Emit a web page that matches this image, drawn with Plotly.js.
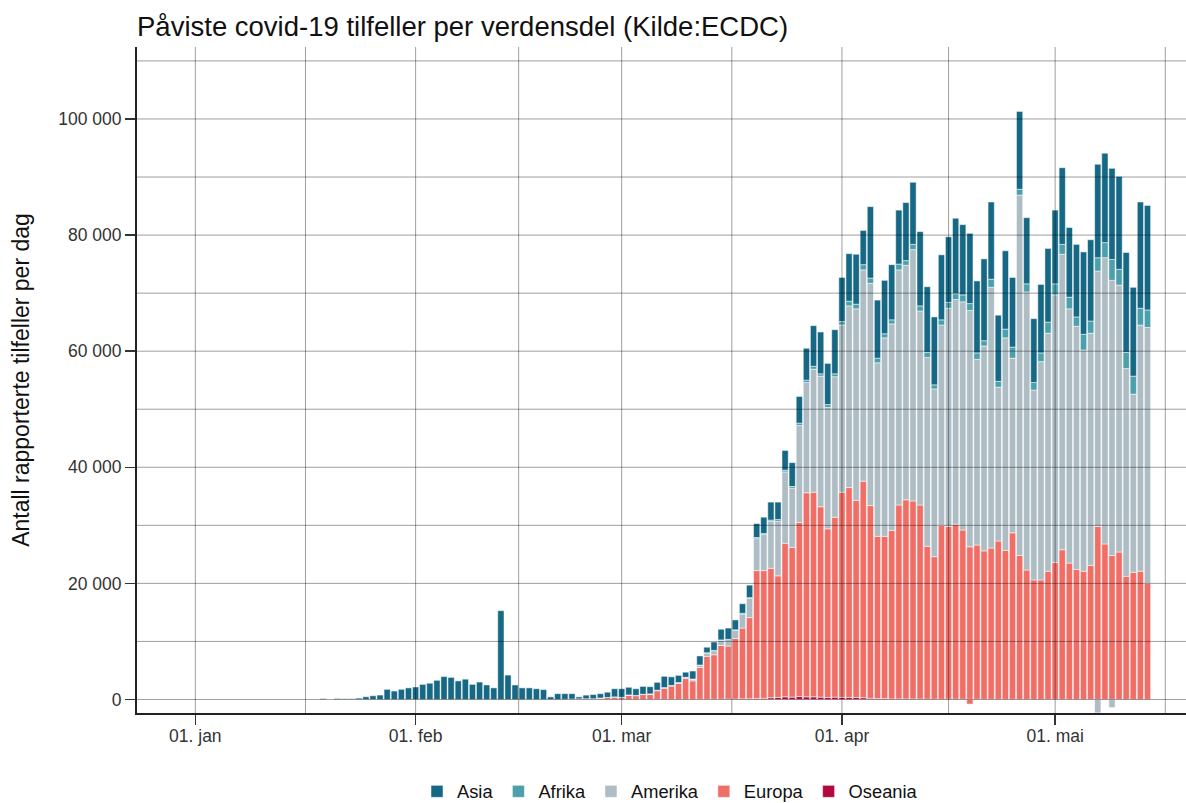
<!DOCTYPE html>
<html>
<head>
<meta charset="utf-8">
<script src="https://cdn.plot.ly/plotly-3.0.1.min.js"></script>
<style>
html, body { margin: 0; padding: 0; background: #ffffff; }
#chart { width: 1186px; height: 803px; }
</style>
</head>
<body>
<div id="chart"></div>
<script>
// ---- data (daily reported cases, first day = startDate) ----
const startDate = '2020-01-19';

const asia = [
  // Jan 19-31
  140, 0, 150, 120, 120, 230, 470, 640, 760, 1740, 1450, 1750, 2000,
  // Feb
  2150, 2600, 2800, 3300, 3950, 3800, 3200, 3500, 2600, 3000, 2500, 2000, 15300, 4200, 2500,
  2000, 2000, 1850, 1700, 450, 1000, 980, 940, 350, 630, 730, 750, 900, 1400,
  // Mar
  1480, 1320, 1160, 1350, 1240, 1360, 1940, 1480, 1230, 880, 1370, 1570, 950, 1450, 1840, 1940,
  1700, 1650, 2150, 2400, 2800, 3100, 3000, 3400, 4100, 4600, 5500, 7000, 7200, 7100, 7600,
  // Apr
  7600, 8200, 8600, 5900, 12300, 10000, 9200, 9500, 9300, 10000, 10700, 12800, 11300, 11700, 11200,
  11300, 13000, 12100, 12100, 12400, 14100, 13300, 11400, 13500, 12000, 13400, 11400, 11000, 11800, 12700,
  // May 1-14
  12700, 13200, 12000, 12500, 14200, 14000, 16100, 15400, 15700, 16000, 17200, 15300, 18300, 18000
];

const afrika = [
  0, 0, 0, 0, 0, 0, 0, 0, 0, 0, 0, 0, 0,
  0, 0, 0, 0, 0, 0, 0, 0, 0, 0, 0, 0, 0, 0, 0,
  0, 0, 0, 0, 0, 0, 0, 0, 0, 0, 0, 0, 0, 0,
  0, 0, 0, 10, 0, 10, 10, 20, 20, 20, 30, 30, 50, 50, 60, 60,
  100, 150, 150, 200, 200, 250, 300, 300, 300, 400, 400, 500, 400, 500, 500,
  600, 800, 800, 900, 900, 800, 700, 700, 1000, 800, 900, 900, 900, 700, 900,
  1000, 1000, 1200, 1200, 1100, 900, 1400, 1000, 1500, 1900, 1000, 1400, 1300, 1500, 1900,
  1900, 1700, 2000, 1600, 2700, 2100, 2300, 2600, 3600, 2700, 2800, 3100, 2900, 3000
];

const amerika = [
  0, 0, 0, 0, 0, 0, 0, 0, 0, 0, 0, 0, 0,
  0, 0, 0, 0, 0, 0, 0, 0, 0, 0, 0, 0, 0, 0, 0,
  0, 0, 0, 0, 0, 0, 0, 0, 0, 0, 0, 0, 0, 0,
  20, 30, 40, 40, 60, 80, 100, 100, 150, 200, 300, 400, 600, 700, 900, 1100,
  1400, 2400, 3300, 5500, 6200, 8050, 9400, 12300, 10200, 16700, 19000, 21200, 22500, 20900, 24200,
  28800, 31300, 33000, 36400, 38300, 29900, 34200, 35600, 40500, 40400, 43300, 33400, 32500, 28900, 34500,
  37600, 38700, 39300, 40700, 32000, 35300, 44900, 26500, 36600, 30100, 62100, 47900, 32700, 37600, 41000,
  46100, 50900, 43800, 41900, 38100, 40000, 44000, 49300, 47400, 46000, 35800, 30700, 42400, 44100
];

const europa = [
  0, 0, 0, 0, 0, 0, 0, 0, 0, 0, 0, 0, 0,
  0, 0, 0, 0, 0, 0, 0, 0, 0, 0, 0, 0, 0, 0, 0,
  0, 0, 0, 0, 0, 0, 20, 60, 100, 120, 120, 250, 350, 450,
  350, 750, 650, 850, 900, 1490, 1930, 2290, 2740, 3580, 3180, 5470, 7370, 7660, 9250, 9140,
  10420, 12200, 13980, 22050, 22000, 22300, 20950, 26450, 25800, 30000, 35150, 35250, 32800, 29050, 31000,
  35350, 36150, 33950, 37300, 33200, 27950, 27950, 29000, 33400, 34300, 34100, 33420, 26340, 24540, 29950,
  29750, 30150, 29160, 26260, 26570, 25570, 26070, 27270, 25670, 28670, 24780, 22280, 20580, 20580, 22080,
  23580, 25780, 23480, 22380, 22080, 23080, 29780, 26780, 24780, 25380, 21180, 21880, 22080, 19980
];

const oseania = [
  0, 0, 0, 0, 0, 0, 0, 0, 0, 0, 0, 0, 0,
  0, 0, 0, 0, 0, 0, 0, 0, 0, 0, 0, 0, 0, 0, 0,
  0, 0, 0, 0, 0, 0, 0, 0, 0, 0, 0, 0, 0, 0,
  0, 0, 0, 0, 0, 10, 10, 10, 10, 20, 20, 30, 30, 40, 50, 60,
  80, 100, 120, 150, 200, 300, 350, 450, 400, 500, 450, 450, 400, 350, 400,
  350, 350, 350, 300, 200, 150, 150, 100, 100, 100, 100, 80, 60, 60, 50,
  50, 50, 40, 40, 30, 30, 30, 30, 30, 30, 20, 20, 20, 20, 20,
  20, 20, 20, 20, 20, 20, 20, 20, 20, 20, 20, 20, 20, 20
];

// negative corrections (stacked below zero)
const europaNegDates = ['2020-04-19'];
const europaNegValues = [-800];
const amerikaNegDates = ['2020-05-07', '2020-05-09'];
const amerikaNegValues = [-2300, -1400];

// axis labels
const monthTicks = ['2020-01-01', '2020-02-01', '2020-03-01', '2020-04-01', '2020-05-01'];
const monthLabels = ['01. jan', '01. feb', '01. mar', '01. apr', '01. mai'];
const monthStarts = ['2019-12-01', '2020-01-01', '2020-02-01', '2020-03-01', '2020-04-01', '2020-05-01', '2020-06-01'];

// ---- build ----
function buildDates(start, n) {
  const out = [];
  const t0 = new Date(start + 'T00:00:00Z').getTime();
  for (let i = 0; i < n; i++) out.push(new Date(t0 + i * 86400000).toISOString().slice(0, 10));
  return out;
}
const dates = buildDates(startDate, asia.length);

const colors = {
  Asia: '#166885', Afrika: '#4BA0AC', Amerika: '#AEBCC4', Europa: '#F06E66', Oseania: '#B2083E'
};

const lineStyle = { color: '#ffffff', width: 0.5 };
const mk = (name, x, y, showlegend) => ({
  type: 'bar', name: name, x: x, y: y, legendgroup: name, showlegend: showlegend,
  marker: { color: colors[name], line: lineStyle }, hoverinfo: 'x+y+name'
});

const traces = [
  mk('Oseania', dates, oseania, true),
  mk('Europa', dates, europa, true),
  mk('Amerika', dates, amerika, true),
  mk('Afrika', dates, afrika, true),
  mk('Asia', dates, asia, true),
  mk('Europa', europaNegDates, europaNegValues, false),
  mk('Amerika', amerikaNegDates, amerikaNegValues, false)
];

const xRange = ['2019-12-23 19:00', '2020-05-19 10:00'];
const yRange = [-2330, 112400];

// grid lines drawn above the bars
const gridColor = 'rgba(0,0,0,0.38)';
const shapes = [];
for (let v = 0; v <= 110000; v += 10000) {
  shapes.push({ type: 'line', layer: 'above', xref: 'paper', yref: 'y', x0: 0, x1: 1, y0: v, y1: v,
    line: { color: gridColor, width: 1 } });
}
const ms = d => new Date(d + 'T00:00:00Z').getTime();
const xMin = new Date(xRange[0].replace(' ', 'T') + ':00Z').getTime();
const xMax = new Date(xRange[1].replace(' ', 'T') + ':00Z').getTime();
const vLines = [];
for (let i = 0; i < monthStarts.length; i++) {
  vLines.push(ms(monthStarts[i]));
  if (i + 1 < monthStarts.length) vLines.push((ms(monthStarts[i]) + ms(monthStarts[i + 1])) / 2);
}
vLines.filter(t => t > xMin && t < xMax).forEach(t => {
  const iso = new Date(t).toISOString().replace('T', ' ').slice(0, 19);
  shapes.push({ type: 'line', layer: 'above', xref: 'x', yref: 'paper', x0: iso, x1: iso, y0: 0, y1: 1,
    line: { color: gridColor, width: 1 } });
});

const font = 'Liberation Sans, Arial, sans-serif';

const layout = {
  width: 1186, height: 803,
  margin: { l: 137, r: 0, t: 47, b: 89.5, pad: 0, autoexpand: false },
  paper_bgcolor: '#ffffff', plot_bgcolor: '#ffffff',
  barmode: 'relative', bargap: 0.12,
  separators: ', ',
  font: { family: font, color: '#333333', size: 17.5 },
  title: {
    text: 'Påviste covid-19 tilfeller per verdensdel (Kilde:ECDC)',
    font: { family: font, size: 27.5, color: '#111111' },
    xref: 'paper', x: 0, xanchor: 'left',
    yref: 'container', y: 1 - 26 / 803, yanchor: 'middle'
  },
  xaxis: {
    type: 'date', range: xRange, autorange: false, automargin: false,
    tickmode: 'array', tickvals: monthTicks, ticktext: monthLabels,
    ticks: 'outside', ticklen: 10, tickwidth: 1.5, tickcolor: '#333333',
    ticklabelstandoff: -4,
    tickfont: { family: font, size: 17.5, color: '#333333' },
    showgrid: false, zeroline: false,
    showline: true, linecolor: '#222222', linewidth: 2
  },
  yaxis: {
    range: yRange, autorange: false, automargin: false,
    tickmode: 'linear', tick0: 0, dtick: 20000, tickformat: ',d',
    ticks: 'outside', ticklen: 10, tickwidth: 1.5, tickcolor: '#333333',
    tickfont: { family: font, size: 17.5, color: '#333333' },
    showgrid: false, zeroline: false,
    showline: true, linecolor: '#222222', linewidth: 2,
    title: { text: 'Antall rapporterte tilfeller per dag', font: { family: font, size: 23, color: '#111111' }, standoff: 22 }
  },
  legend: {
    orientation: 'h', traceorder: 'reversed',
    x: (670 - 137) / 1049, xanchor: 'center',
    y: (713.5 - 792) / 666.5, yanchor: 'middle',
    font: { family: font, size: 18.3, color: '#111111' },
    bgcolor: 'rgba(0,0,0,0)'
  },
  shapes: shapes
};

Plotly.newPlot('chart', traces, layout, { displayModeBar: false, staticPlot: true });
</script>
</body>
</html>
